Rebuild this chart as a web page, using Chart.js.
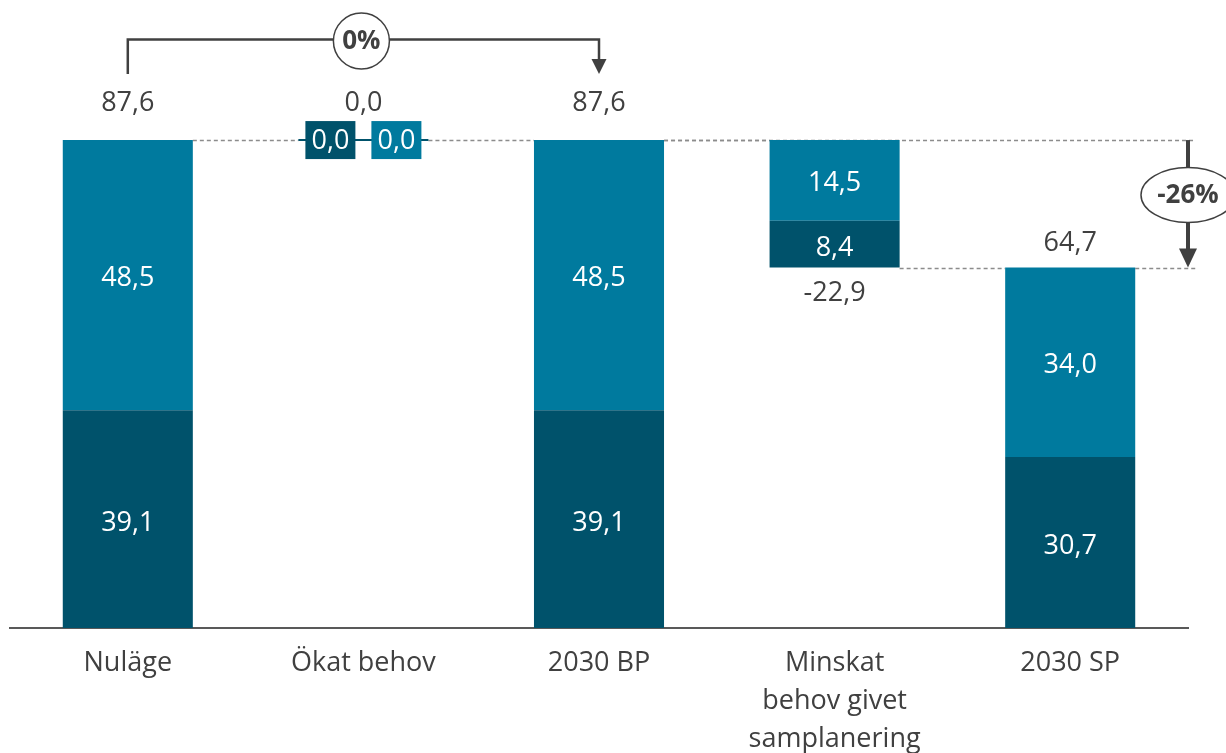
<!DOCTYPE html>
<html>
<head>
<meta charset="utf-8">
<script src="https://cdn.jsdelivr.net/npm/chart.js@4.4.1/dist/chart.umd.min.js"></script>
<style>
  html, body { margin: 0; padding: 0; background: #fff; }
  #wrap { width: 1226px; height: 753px; }
</style>
</head>
<body>
<div id="wrap"><canvas id="waterfall"></canvas></div>
<script>
  const categories = ['Nuläge', 'Ökat behov', '2030 BP', ['Minskat', 'behov givet', 'samplanering'], '2030 SP'];
  const barKind = ['total', 'increase', 'total', 'decrease', 'total'];
  const baseVals = [0, 87.6, 0, 64.7, 0];
  const darkVals = [39.1, 0.0, 39.1, 8.4, 30.7];
  const lightVals = [48.5, 0.0, 48.5, 14.5, 34.0];

  const DARK = 'rgb(0,82,107)';
  const LIGHT = 'rgb(0,122,158)';
  const TEXT = '#404040';
  const FONT = '"Open Sans", sans-serif';

  const fmt = v => v.toFixed(1).replace('.', ',');

  function bottomOf(i) { return baseVals[i]; }
  function topOf(i) { return baseVals[i] + darkVals[i] + lightVals[i]; }
  function endLevel(i) { return barKind[i] === 'decrease' ? bottomOf(i) : topOf(i); }
  function labelValue(i) {
    const s = darkVals[i] + lightVals[i];
    return barKind[i] === 'decrease' ? -s : s;
  }

  function arrowHead(ctx, x, y, w, h) {
    ctx.beginPath();
    ctx.moveTo(x - w / 2, y - h);
    ctx.lineTo(x + w / 2, y - h);
    ctx.lineTo(x, y);
    ctx.closePath();
    ctx.fill();
  }

  const waterfallDecor = {
    id: 'waterfallDecor',
    beforeDatasetsDraw(chart) {
      const { ctx, scales: { y } } = chart;
      const meta = chart.getDatasetMeta(1);
      ctx.save();
      ctx.strokeStyle = '#8c8c8c';
      ctx.lineWidth = 1.3;
      ctx.setLineDash([4, 3]);
      // connectors between neighbouring bars
      for (let i = 0; i < categories.length - 1; i++) {
        const a = meta.data[i], b = meta.data[i + 1];
        const yy = Math.round(y.getPixelForValue(endLevel(i))) + 0.5;
        ctx.beginPath();
        ctx.moveTo(a.x + a.width / 2, yy);
        ctx.lineTo(b.x - b.width / 2, yy);
        ctx.stroke();
      }
      // guides for the BP -> SP comparison arrow
      const arrowX = chart.chartArea.right;
      const bp = meta.data[2], sp = meta.data[4];
      const yBP = Math.round(y.getPixelForValue(topOf(2))) + 0.5;
      const ySP = Math.round(y.getPixelForValue(topOf(4))) + 0.5;
      ctx.beginPath();
      ctx.moveTo(bp.x + bp.width / 2, yBP);
      ctx.lineTo(arrowX + 7, yBP);
      ctx.moveTo(sp.x + sp.width / 2, ySP);
      ctx.lineTo(arrowX + 9, ySP);
      ctx.stroke();
      ctx.restore();
    },
    afterDatasetsDraw(chart) {
      const { ctx, scales: { y } } = chart;
      const meta = chart.getDatasetMeta(1);
      ctx.save();
      ctx.textAlign = 'center';
      ctx.textBaseline = 'middle';
      ctx.font = '27px ' + FONT;

      const maxTop = Math.max(...categories.map((c, i) => topOf(i)));

      categories.forEach((c, i) => {
        const bar = meta.data[i];
        const cx = bar.x;
        const y0 = y.getPixelForValue(bottomOf(i));
        const y1 = y.getPixelForValue(bottomOf(i) + darkVals[i]);
        const y2 = y.getPixelForValue(topOf(i));

        if (darkVals[i] === 0 && lightVals[i] === 0) {
          // zero step: flat line with boxed labels
          ctx.strokeStyle = DARK;
          ctx.lineWidth = 2;
          ctx.beginPath();
          ctx.moveTo(cx - bar.width / 2, y2);
          ctx.lineTo(cx + bar.width / 2, y2);
          ctx.stroke();
          [[DARK, darkVals[i], -33], [LIGHT, lightVals[i], 33]].forEach(([col, v, dx]) => {
            ctx.fillStyle = col;
            ctx.fillRect(cx + dx - 25, y2 - 19, 50, 38);
            ctx.fillStyle = '#fff';
            ctx.fillText(fmt(v), cx + dx, y2 + 1);
          });
        } else {
          ctx.fillStyle = '#fff';
          if (darkVals[i] > 0) ctx.fillText(fmt(darkVals[i]), cx, (y0 + y1) / 2 + 4);
          if (lightVals[i] > 0) ctx.fillText(fmt(lightVals[i]), cx, (y1 + y2) / 2 + 3);
        }

        ctx.fillStyle = TEXT;
        if (barKind[i] === 'decrease') {
          ctx.fillText(fmt(labelValue(i)), cx, y0 + 26);
        } else {
          const gap = Math.abs(topOf(i) - maxTop) < 0.01 ? 37 : 24;
          ctx.fillText(fmt(labelValue(i)), cx, y2 - gap);
        }
      });

      ctx.strokeStyle = TEXT;
      ctx.fillStyle = TEXT;

      // bracket Nuläge -> 2030 BP
      const nu = meta.data[0], bp = meta.data[2];
      const pct1 = Math.round((topOf(2) - topOf(0)) / topOf(0) * 100);
      const yb = 39.5, yEnd = 74;
      ctx.lineWidth = 2.5;
      ctx.beginPath();
      ctx.moveTo(nu.x, yEnd);
      ctx.lineTo(nu.x, yb);
      ctx.lineTo(bp.x, yb);
      ctx.lineTo(bp.x, yEnd - 14);
      ctx.stroke();
      arrowHead(ctx, bp.x, yEnd, 15, 15);
      const cx1 = (nu.x + bp.x) / 2 - 2;
      ctx.beginPath();
      ctx.arc(cx1, 41, 28, 0, Math.PI * 2);
      ctx.fillStyle = '#fff';
      ctx.fill();
      ctx.lineWidth = 1.5;
      ctx.stroke();
      ctx.fillStyle = TEXT;
      ctx.font = 'bold 26px ' + FONT;
      ctx.fillText(pct1 + '%', cx1, 42);

      // arrow 2030 BP -> 2030 SP
      const pct2 = Math.round((topOf(4) - topOf(2)) / topOf(2) * 100);
      const ax = chart.chartArea.right;
      const yTop = y.getPixelForValue(topOf(2));
      const yBot = y.getPixelForValue(topOf(4));
      ctx.lineWidth = 4;
      ctx.beginPath();
      ctx.moveTo(ax, yTop);
      ctx.lineTo(ax, yBot - 16);
      ctx.stroke();
      arrowHead(ctx, ax, yBot, 18, 19);
      const ey = 195;
      ctx.beginPath();
      ctx.ellipse(ax, ey, 47, 27.5, 0, 0, Math.PI * 2);
      ctx.fillStyle = '#fff';
      ctx.fill();
      ctx.lineWidth = 1.5;
      ctx.stroke();
      ctx.fillStyle = TEXT;
      ctx.fillText(pct2 + '%', ax, ey + 1);

      ctx.restore();
    }
  };

  new Chart(document.getElementById('waterfall').getContext('2d'), {
    type: 'bar',
    data: {
      labels: categories,
      datasets: [
        { label: 'base', data: baseVals, backgroundColor: 'rgba(0,0,0,0)' },
        { label: 'dark', data: darkVals, backgroundColor: DARK },
        { label: 'light', data: lightVals, backgroundColor: LIGHT }
      ]
    },
    options: {
      responsive: true,
      maintainAspectRatio: false,
      animation: false,
      layout: { padding: { top: 71, left: 10, right: 38, bottom: 0 } },
      datasets: { bar: { barPercentage: 1, categoryPercentage: 0.552 } },
      plugins: { legend: { display: false }, tooltip: { enabled: false } },
      scales: {
        x: {
          stacked: true,
          grid: { display: false, drawTicks: false },
          border: { display: true, color: '#595959', width: 2 },
          ticks: {
            color: TEXT,
            padding: 17,
            maxRotation: 0,
            autoSkip: false,
            font: { family: FONT, size: 27, lineHeight: 1.39 }
          },
          afterFit: scale => { scale.height = 125; }
        },
        y: {
          stacked: true,
          display: false,
          min: 0,
          max: 100
        }
      }
    },
    plugins: [waterfallDecor]
  });
</script>
</body>
</html>
